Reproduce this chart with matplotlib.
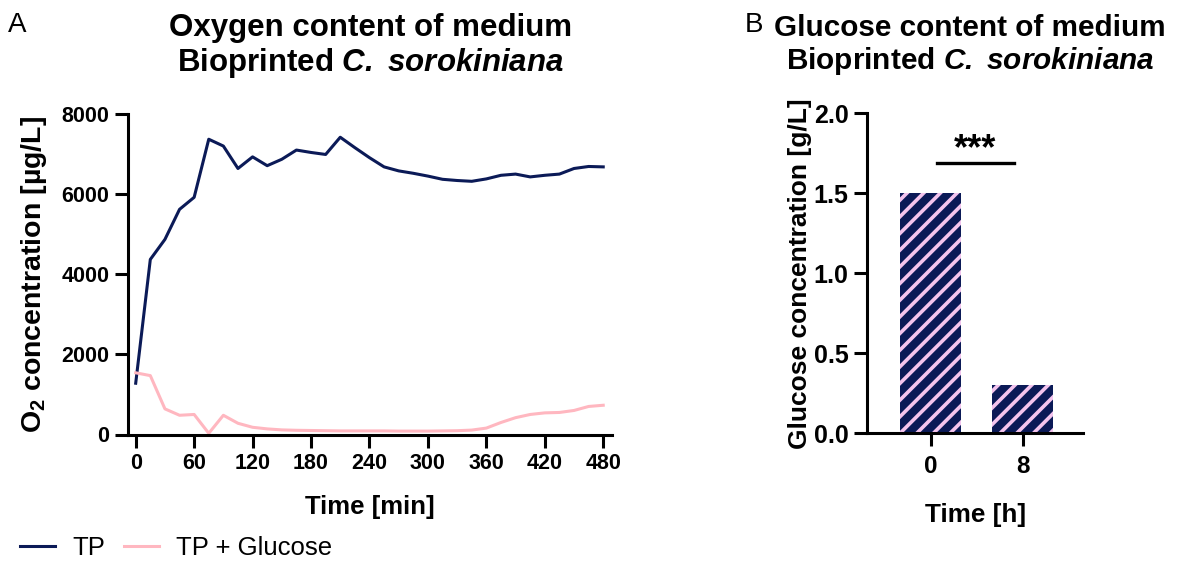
import numpy as np
import matplotlib
matplotlib.use('Agg')
from matplotlib import pyplot as plt
from matplotlib.lines import Line2D

plt.rcParams['font.family'] = ['Liberation Sans', 'DejaVu Sans']
plt.rcParams['mathtext.fontset'] = 'custom'
plt.rcParams['mathtext.rm'] = 'Liberation Sans:bold'
plt.rcParams['mathtext.bf'] = 'Liberation Sans:bold'
plt.rcParams['mathtext.bfit'] = 'Liberation Sans:bold:italic'
plt.rcParams['mathtext.it'] = 'Liberation Sans:bold:italic'
plt.rcParams['hatch.linewidth'] = 2.6

# Data ------------------------------------------------------------------
time_min = list(range(0, 481, 15))
tp = [1280, 4370, 4870, 5620, 5920, 7370, 7200, 6640, 6930, 6710, 6870,
      7100, 7040, 6990, 7420, 7160, 6910, 6680, 6580, 6520, 6450, 6370,
      6340, 6320, 6380, 6470, 6500, 6430, 6470, 6500, 6640, 6690, 6680]
tp_glucose = [1540, 1470, 640, 480, 500, 30, 480, 280, 180, 140, 115,
              105, 100, 95, 90, 90, 90, 90, 85, 85, 85, 90,
              95, 110, 160, 300, 420, 500, 540, 550, 600, 700, 730]

glucose_time_labels = ['0', '8']
glucose_values = [1.5, 0.3]

NAVY = '#0b1a57'
PINK = '#ffb7c0'
HATCH_PINK = '#f4c4ee'

W, H = 1187, 563
fig = plt.figure(figsize=(W / 100, H / 100), dpi=100)


def style_axes(ax, xsize, ysize):
    for side in ['top', 'right']:
        ax.spines[side].set_visible(False)
    for side in ['left', 'bottom']:
        ax.spines[side].set_linewidth(2.2)
    ax.tick_params(width=2.2, length=9.5, pad=4)
    ax.tick_params(axis='x', labelsize=xsize)
    ax.tick_params(axis='y', labelsize=ysize)
    for lab in ax.get_xticklabels() + ax.get_yticklabels():
        lab.set_fontweight('bold')


# Panel A: oxygen line plot -------------------------------------------
ax1 = fig.add_axes([128.3 / W, 1 - 434.5 / H, (612 - 128.3) / W, (434.5 - 114) / H])
ax1.plot(time_min, tp, color=NAVY, lw=2.2)
ax1.plot(time_min, tp_glucose, color=PINK, lw=2.2)
ax1.set_xlim(-7.6, 489)
ax1.set_ylim(0, 8000)
ax1.set_xticks(range(0, 481, 60))
ax1.set_yticks(range(0, 8001, 2000))
style_axes(ax1, 15.5, 15.5)
ax1.set_xlabel('Time [min]', fontsize=18.5, fontweight='bold', labelpad=15)
ax1.set_ylabel('O$_{2}$ concentration [µg/L]', fontsize=20.5, fontweight='bold', labelpad=9)
ax1.set_title('Oxygen content of medium\nBioprinted $\\mathbfit{C.}$ $\\mathbfit{sorokiniana}$',
              fontsize=22.5, fontweight='bold', pad=31, linespacing=1.1)

# Panel B: glucose bars -----------------------------------------------
ax2 = fig.add_axes([867.3 / W, 1 - 433.3 / H, (1083 - 867.3) / W, 320 / H])
x_pos = np.arange(len(glucose_values))
ax2.bar(x_pos, glucose_values, width=0.666, color=NAVY, edgecolor=HATCH_PINK,
        linewidth=0, hatch='//')
ax2.set_xlim(-0.69, 1.655)
ax2.set_ylim(0, 2.0)
ax2.set_xticks(x_pos)
ax2.set_xticklabels(glucose_time_labels)
ax2.set_yticks([0.0, 0.5, 1.0, 1.5, 2.0])
ax2.set_yticklabels(['0.0', '0.5', '1.0', '1.5', '2.0'])
style_axes(ax2, 17.5, 18)
ax2.tick_params(axis='x', pad=6)
ax2.set_xlabel('Time [h]', fontsize=18.8, fontweight='bold', labelpad=18)
ax2.set_ylabel('Glucose concentration [g/L]', fontsize=19, fontweight='bold', labelpad=1)
ax2.set_title('Glucose content of medium\nBioprinted $\\mathbfit{C.}$ $\\mathbfit{sorokiniana}$',
              fontsize=21.4, fontweight='bold', pad=32, linespacing=1.1, x=0.477)

# significance bar
ax2.plot([0.064, 0.904], [1.69, 1.69], color='black', lw=2.4, clip_on=False)
ax2.text(0.484, 1.665, '***', ha='center', va='bottom', fontsize=26, fontweight='bold')

# Panel letters
fig.text(8 / W, 1 - 25 / H, 'A', fontsize=20, va='center', ha='left')
fig.text(745 / W, 1 - 25 / H, 'B', fontsize=20, va='center', ha='left')

# Legend
legend_elements = [
    Line2D([0], [0], color=NAVY, lw=2.2, label='TP'),
    Line2D([0], [0], color=PINK, lw=2.2, label='TP + Glucose')
]
fig.legend(handles=legend_elements, loc='center left', bbox_to_anchor=(20 / W, 1 - 548 / H),
           ncol=2, frameon=False, fontsize=18.5, handlelength=1.35, columnspacing=0.75,
           handletextpad=0.68, borderpad=0, borderaxespad=0)

fig.savefig('out.png', dpi=100)
